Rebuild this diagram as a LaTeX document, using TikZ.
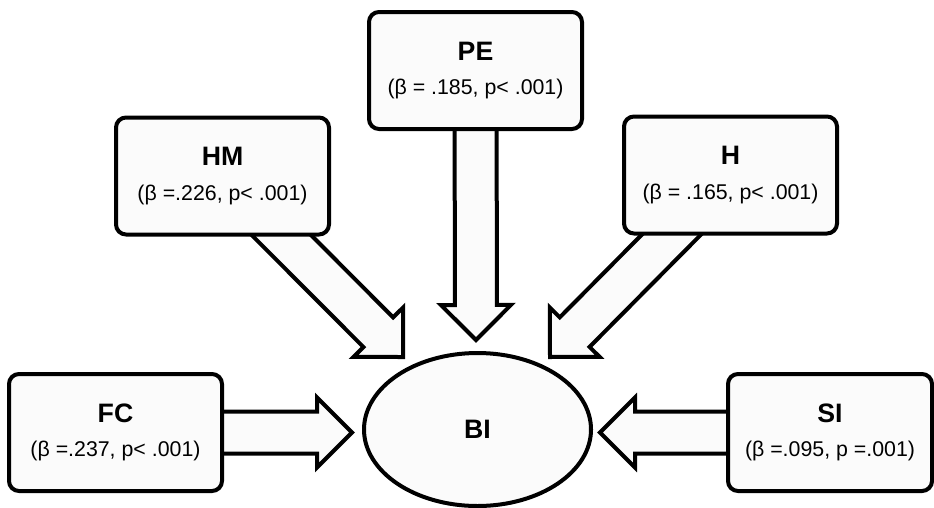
\documentclass[tikz,border=0pt]{standalone}
\usepackage{fontspec}
\setmainfont{Liberation Sans}
\usetikzlibrary{calc,shapes.geometric}
\pgfdeclarelayer{background}
\pgfsetlayers{background,main}

\tikzset{
  factor/.style={draw, line width=3pt, rounded corners=7.5pt, fill=gray!3,
    minimum width=159.75pt, minimum height=87.75pt, inner sep=0pt,
    align=center, font=\fontsize{16}{26}\selectfont},
  construct/.style={draw, ellipse, line width=3pt, fill=gray!3,
    minimum width=170.25pt, minimum height=114.75pt, inner sep=0pt,
    font=\fontsize{20}{24}\selectfont\bfseries},
  blockarr/.style={draw, line width=3pt, fill=gray!3, line join=miter},
}
\newcommand{\factorname}[1]{{\fontsize{20}{26}\selectfont\bfseries #1}}
% block arrow from a box (#1) to a tip coordinate (#2)
\newcommand{\blockarrow}[2]{%
  \coordinate (#2-back) at ($(#2)!26.25pt!(#1.center)$);
  \draw[blockarr] ($(#1.center)!15.75pt!90:(#2)$) -- ($(#2-back)!15.75pt!90:(#2)$)
    -- ($(#2-back)!26.25pt!90:(#2)$) -- (#2) -- ($(#2-back)!26.25pt!-90:(#2)$)
    -- ($(#2-back)!15.75pt!-90:(#2)$) -- ($(#1.center)!15.75pt!-90:(#2)$) -- cycle;
}

\begin{document}
\begin{tikzpicture}[x=0.75pt,y=0.75pt,yscale=-1,xscale=1]
\useasboundingbox (0,0) rectangle (934,507);

% Boxes
\node[factor] (pe) at (475.5,70.5) {\factorname{PE}\\(β = .185, p< .001)};
\node[factor] (hm) at (222.5,176) {\factorname{HM}\\(β =.226, p< .001)};
\node[factor] (h) at (730.5,175) {\factorname{H}\\(β = .165, p< .001)};
\node[factor] (fc) at (115.5,432.5) {\factorname{FC}\\(β =.237, p< .001)};
\node[factor, minimum width=153pt] (si) at (830,432.5) {\factorname{SI}\\(β =.095, p =.001)};

% Ellipse
\node[construct] (bi) at (477.5,429.5) {BI};

% Arrow tips
\coordinate (pe-tip) at (476,340);
\coordinate (hm-tip) at (403,357);
\coordinate (h-tip) at (550,357);
\coordinate (fc-tip) at (352,432.5);
\coordinate (si-tip) at (600,432.5);

% Block arrows
\begin{pgfonlayer}{background}
\blockarrow{pe}{pe-tip}
\blockarrow{hm}{hm-tip}
\blockarrow{h}{h-tip}
\blockarrow{fc}{fc-tip}
\blockarrow{si}{si-tip}
\end{pgfonlayer}
\end{tikzpicture}
\end{document}
